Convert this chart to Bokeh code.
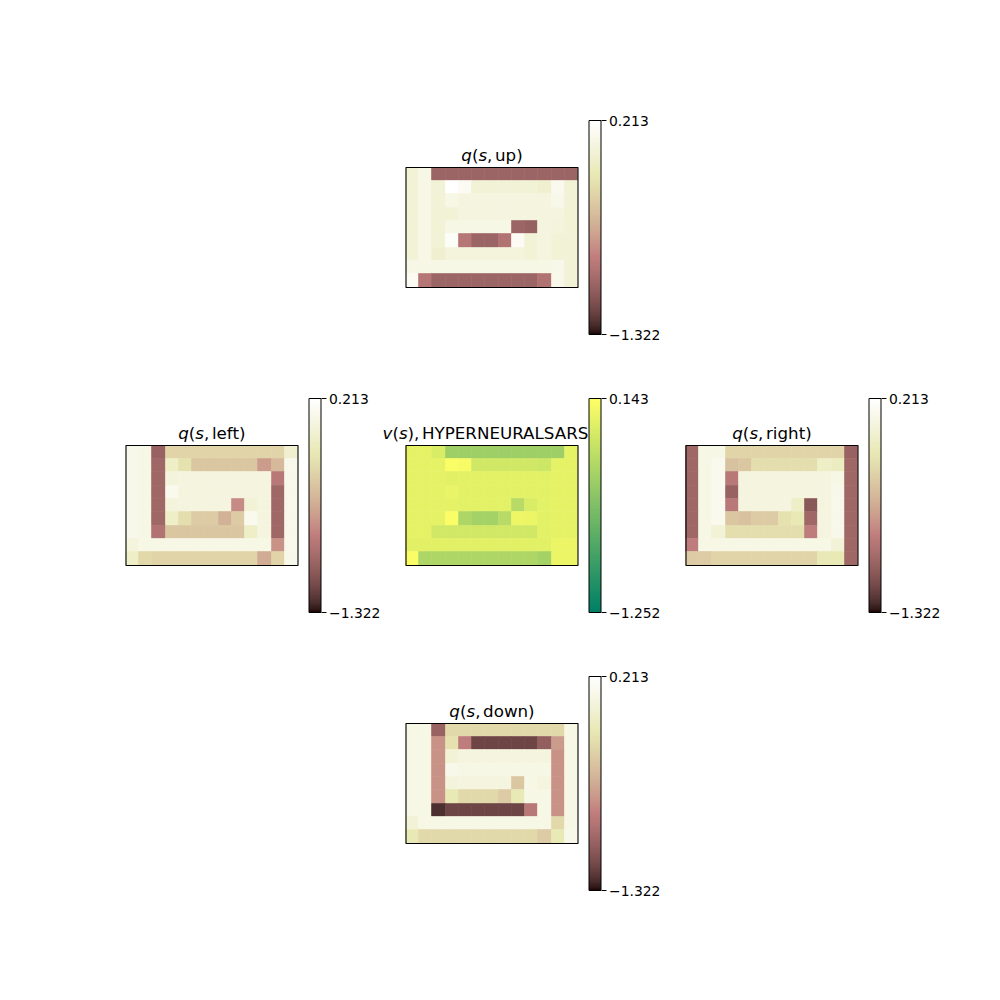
import numpy as np
from bokeh.plotting import figure
from bokeh.models import (Range1d, ColumnDataSource, LinearColorMapper, ColorBar,
                          FixedTicker, CustomJSTickFormatter, Label)
from bokeh.transform import transform
from bokeh.embed import file_html
from bokeh.resources import INLINE

# ---------------- data (9 rows x 13 columns, row 0 = top) ----------------
q_low, q_high = -1.322, 0.213
v_low, v_high = -1.252, 0.143

q_up = [
    [-0.02, 0.06, -0.96, -0.96, -0.96, -0.96, -0.96, -0.96, -0.96, -0.96, -0.96, -0.96, -0.96],
    [-0.02, 0.06, -0.02, 0.21, 0.14, -0.02, -0.02, -0.02, -0.02, -0.02, -0.05, 0.11, -0.02],
    [-0.02, 0.06, -0.02, 0.06, 0.03, 0.03, 0.03, 0.03, 0.03, 0.03, 0.03, 0.09, -0.02],
    [-0.02, 0.06, -0.02, -0.02, 0.03, 0.03, 0.03, 0.03, 0.03, 0.03, 0.03, 0.03, -0.02],
    [-0.02, 0.06, -0.02, 0.06, 0.06, 0.06, 0.06, 0.06, -0.96, -0.99, 0.03, 0.01, -0.02],
    [-0.02, 0.06, -0.02, 0.17, -0.83, -0.96, -0.96, -0.86, 0.14, -0.02, 0.03, -0.02, -0.02],
    [-0.02, 0.06, -0.05, 0.01, 0.01, 0.01, 0.01, 0.01, 0.01, -0.02, 0.03, -0.02, -0.02],
    [0.06, 0.06, 0.06, 0.06, 0.06, 0.06, 0.06, 0.06, 0.06, 0.06, 0.06, 0.09, -0.02],
    [0.14, -0.83, -0.96, -0.96, -0.96, -0.96, -0.96, -0.96, -0.96, -0.96, -0.86, 0.09, -0.02],
]

q_left = [
    [0.09, 0.06, -0.98, -0.32, -0.32, -0.32, -0.32, -0.32, -0.32, -0.32, -0.32, -0.32, -0.05],
    [0.09, 0.06, -0.94, -0.09, -0.22, -0.40, -0.40, -0.40, -0.40, -0.40, -0.63, -0.48, 0.09],
    [0.09, 0.06, -0.94, 0.01, 0.03, 0.03, 0.03, 0.03, 0.03, 0.03, 0.03, -0.81, 0.09],
    [0.09, 0.06, -0.94, 0.11, 0.03, 0.03, 0.03, 0.03, 0.03, 0.03, 0.03, -0.94, 0.09],
    [0.09, 0.06, -0.94, 0.01, 0.03, 0.03, 0.03, 0.03, -0.71, -0.02, 0.03, -0.94, 0.09],
    [0.09, 0.06, -0.94, -0.09, -0.25, -0.37, -0.37, -0.52, -0.37, 0.11, 0.03, -0.94, 0.09],
    [0.09, 0.06, -0.86, -0.40, -0.40, -0.40, -0.40, -0.40, -0.40, -0.09, 0.03, -0.94, 0.09],
    [0.01, 0.06, 0.06, 0.06, 0.06, 0.06, 0.06, 0.06, 0.06, 0.06, 0.06, -0.68, 0.09],
    [-0.09, -0.28, -0.32, -0.32, -0.32, -0.32, -0.32, -0.32, -0.32, -0.32, -0.55, -0.32, 0.09],
]

q_right = [
    [-0.94, 0.06, 0.06, -0.32, -0.32, -0.32, -0.32, -0.32, -0.32, -0.32, -0.32, -0.32, -0.98],
    [-0.94, 0.06, 0.11, -0.43, -0.40, -0.25, -0.25, -0.25, -0.25, -0.25, -0.09, -0.12, -0.94],
    [-0.94, 0.06, 0.11, -0.81, 0.03, 0.03, 0.03, 0.03, 0.03, 0.03, 0.03, 0.06, -0.94],
    [-0.94, 0.06, 0.11, -0.98, 0.03, 0.03, 0.03, 0.03, 0.03, 0.03, 0.03, 0.09, -0.94],
    [-0.94, 0.06, 0.11, -0.81, 0.03, 0.03, 0.03, 0.03, -0.09, -1.05, 0.03, 0.09, -0.94],
    [-0.94, 0.06, 0.11, -0.40, -0.43, -0.37, -0.37, -0.22, -0.17, -0.94, 0.03, 0.09, -0.94],
    [-0.94, 0.06, -0.02, -0.25, -0.25, -0.25, -0.25, -0.25, -0.25, -0.78, 0.03, 0.09, -0.94],
    [-0.78, 0.06, 0.06, 0.06, 0.06, 0.06, 0.06, 0.06, 0.06, 0.06, 0.06, -0.02, -0.94],
    [-0.37, -0.37, -0.32, -0.32, -0.32, -0.32, -0.32, -0.32, -0.32, -0.32, -0.17, -0.17, -0.94],
]

q_down = [
    [0.06, 0.06, -0.98, -0.28, -0.28, -0.28, -0.28, -0.28, -0.28, -0.28, -0.28, -0.28, 0.06],
    [0.06, 0.06, -0.68, -0.22, -0.78, -1.15, -1.15, -1.15, -1.15, -1.15, -1.01, -0.63, 0.06],
    [0.06, 0.06, -0.68, -0.02, 0.03, 0.03, 0.03, 0.03, 0.03, 0.03, 0.03, -0.68, 0.06],
    [0.06, 0.06, -0.68, 0.09, 0.06, 0.06, 0.06, 0.06, 0.06, 0.06, 0.06, -0.68, 0.06],
    [0.06, 0.06, -0.68, 0.01, 0.03, 0.03, 0.03, 0.03, -0.40, 0.06, 0.03, -0.68, 0.06],
    [0.06, 0.06, -0.68, -0.17, -0.28, -0.28, -0.28, -0.37, -0.17, 0.06, 0.06, -0.68, 0.06],
    [0.06, 0.06, -1.24, -1.15, -1.15, -1.15, -1.15, -1.15, -1.15, -0.81, 0.06, -0.68, 0.06],
    [-0.02, 0.06, 0.06, 0.06, 0.06, 0.06, 0.06, 0.06, 0.06, 0.06, 0.06, -0.28, 0.06],
    [-0.17, -0.28, -0.28, -0.28, -0.28, -0.28, -0.28, -0.28, -0.28, -0.28, -0.37, -0.17, 0.09],
]

v_values = [
    [0.00, 0.00, -0.07, -0.39, -0.39, -0.39, -0.39, -0.39, -0.39, -0.39, -0.39, -0.39, 0.00],
    [0.00, 0.00, 0.00, 0.12, 0.09, -0.11, -0.11, -0.11, -0.11, -0.11, -0.14, 0.00, 0.00],
    [0.00, 0.00, 0.00, -0.02, -0.01, -0.01, -0.01, -0.01, -0.01, -0.01, -0.01, 0.00, 0.00],
    [0.00, 0.00, 0.00, 0.02, -0.01, -0.01, -0.01, -0.01, -0.01, -0.01, -0.01, 0.00, 0.00],
    [0.00, 0.00, 0.00, 0.00, -0.01, -0.01, -0.01, -0.01, -0.25, -0.07, -0.01, 0.00, 0.00],
    [0.00, 0.00, 0.00, 0.12, -0.30, -0.35, -0.35, -0.25, 0.05, 0.03, -0.01, 0.00, 0.00],
    [0.00, 0.00, -0.11, -0.11, -0.11, -0.11, -0.11, -0.11, -0.11, -0.11, -0.01, 0.00, 0.00],
    [-0.02, -0.02, -0.02, -0.02, -0.02, -0.02, -0.02, -0.02, -0.02, -0.02, -0.02, 0.03, 0.03],
    [0.12, -0.30, -0.30, -0.30, -0.30, -0.30, -0.30, -0.30, -0.30, -0.30, -0.35, 0.03, 0.03],
]

# ---------------- palettes (matplotlib "pink" and "summer") ----------------
def to_hex(r, g, b):
    return ["#%02x%02x%02x" % (int(round(a * 255)), int(round(bb * 255)), int(round(c * 255)))
            for a, bb, c in zip(r, g, b)]

t = np.linspace(0, 1, 256)
hot_r = np.interp(t, [0, 0.365079, 1], [0.0416, 1, 1])
hot_g = np.interp(t, [0, 0.365079, 0.746032, 1], [0, 0, 1, 1])
hot_b = np.interp(t, [0, 0.746032, 1], [0, 0, 1])
pink = to_hex(np.sqrt((2 * t + hot_r) / 3), np.sqrt((2 * t + hot_g) / 3), np.sqrt((2 * t + hot_b) / 3))
summer = to_hex(t, 0.5 + 0.5 * t, np.full_like(t, 0.4))

# ---------------- canvas ----------------
W = H = 1000
p = figure(width=W, height=H, x_range=Range1d(0, W), y_range=Range1d(H, 0),
           output_backend="svg", toolbar_location=None, min_border=0,
           x_axis_location=None, y_axis_location=None, outline_line_color=None)
p.grid.visible = False

FONT = "DejaVu Sans"
TITLE_SIZE = 16.7
GAP = 2.6  # thin space after the comma (math-text style)
ADV = {"q": 1300, "(": 799, "s": 1067, ",": 651, " ": 651, "u": 1298, "p": 1300, ")": 799,
       "l": 569, "e": 1260, "f": 721, "t": 803, "r": 842, "i": 569, "g": 1300, "h": 1298,
       "d": 1300, "o": 1253, "w": 1675, "n": 1298, "v": 1212, "H": 1540, "Y": 1251, "P": 1235,
       "E": 1294, "R": 1423, "N": 1532, "U": 1499, "A": 1401, "L": 1141, "S": 1300}

def text_w(s, size):
    return sum(ADV.get(c, 1250) for c in s) / 2048.0 * size

def add_title(segments, cx, baseline, start=None):
    total = sum(text_w(s, TITLE_SIZE) + g for s, _, g in segments)
    x = cx - total / 2 if start is None else start
    for s, style, g in segments:
        p.add_layout(Label(x=x, y=baseline, text=s, text_font=FONT, text_font_size=f"{TITLE_SIZE}px",
                           text_font_style=style, text_align="left", text_baseline="alphabetic",
                           text_color="black"))
        x += text_w(s, TITLE_SIZE) + g

def q_title(action):
    return [("q", "italic", 0), ("(", "normal", 0), ("s", "italic", 0), (",", "normal", GAP),
            (action + ")", "normal", 0)]

FW, FH = 172, 120

def panel(values, x0, y0, palette, low, high, segments, title_start=None):
    arr = np.array(values, dtype=float)
    nr, nc = arr.shape
    rows, cols = np.indices(arr.shape)
    src = ColumnDataSource(dict(left=cols.ravel(), right=cols.ravel() + 1,
                                top=rows.ravel(), bottom=rows.ravel() + 1, val=arr.ravel()))
    mapper = LinearColorMapper(palette=palette, low=low, high=high)
    sub = p.subplot(x_source=Range1d(0, nc), y_source=Range1d(0, nr),
                    x_target=Range1d(x0, x0 + FW), y_target=Range1d(y0, y0 + FH))
    sub.quad(left="left", right="right", top="top", bottom="bottom", source=src,
             fill_color=transform("val", mapper), line_color=transform("val", mapper), line_width=0.6)
    sub.quad(left=[0], right=[nc], top=[0], bottom=[nr], fill_color=None,
             line_color="black", line_width=1.1)
    cb = ColorBar(color_mapper=mapper, location=(x0 + FW + 11, H - (y0 + FH + 47)),
                  width=12, height=FH + 94, padding=0, margin=0,
                  ticker=FixedTicker(ticks=[low, high]),
                  formatter=CustomJSTickFormatter(code="return tick.toFixed(3).replace('-', '\u2212')"),
                  major_label_text_font=FONT, major_label_text_font_size="13.9px",
                  major_label_text_color="black",
                  major_tick_in=0, major_tick_out=5, major_tick_line_color="black",
                  minor_tick_line_color=None, label_standoff=3,
                  bar_line_color="black", bar_line_width=1,
                  border_line_color=None, background_fill_alpha=0)
    p.add_layout(cb)
    add_title(segments, x0 + FW / 2, y0 - 12.5, title_start)

panel(q_up, 405.5, 167, pink, q_low, q_high, q_title("up"))
panel(q_left, 125.5, 445, pink, q_low, q_high, q_title("left"))
panel(v_values, 405.5, 445, summer, v_low, v_high,
      [("v", "italic", 0), ("(", "normal", 0), ("s", "italic", 0), ("),", "normal", GAP),
       ("HYPERNEURALSARS", "normal", 0)],
      title_start=382.0)
panel(q_right, 685.5, 445, pink, q_low, q_high, q_title("right"))
panel(q_down, 405.5, 723, pink, q_low, q_high, q_title("down"))

open("out.html", "w").write(file_html(p, INLINE))
